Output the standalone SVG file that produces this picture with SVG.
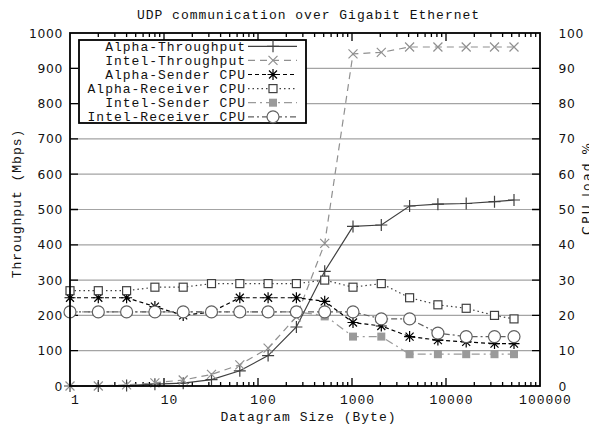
<svg xmlns="http://www.w3.org/2000/svg" width="589" height="425" viewBox="0 0 589 425">
<style>
.t{font-family:"Liberation Mono","Courier New",monospace;font-size:13px;letter-spacing:1px;fill:#111}
.n{font-family:"DejaVu Sans",sans-serif;font-size:12.3px;letter-spacing:0.7px;fill:#111}
.grid{stroke:#a4a4a4;stroke-width:1.2;fill:none}
.tick{stroke:#000;stroke-width:1.3;fill:none}
.ln{fill:none;stroke-width:1.2}
.s1{stroke:#404040}
.s2{stroke:#909090;stroke-dasharray:7 5}
.s3{stroke:#000;stroke-dasharray:4 3}
.s4{stroke:#404040;stroke-dasharray:1.5 3}
.s5{stroke:#9a9a9a;stroke-dasharray:8 4 2 4}
.s6{stroke:#606060;stroke-dasharray:6 3 2 3}
</style>
<defs>
<path id="plus" d="M-6 0H6M0-6V6" stroke="#404040" stroke-width="1.2" fill="none"/>
<path id="cross" d="M-4.5-4.5L4.5 4.5M-4.5 4.5L4.5-4.5" stroke="#909090" stroke-width="1.2" fill="none"/>
<path id="star" d="M-5.5 0H5.5M0-5.5V5.5M-4-4L4 4M-4 4L4-4" stroke="#000" stroke-width="1.2" fill="none"/>
<rect id="osq" x="-4" y="-4" width="8" height="8" stroke="#404040" stroke-width="1.2" fill="#fff"/>
<rect id="fsq" x="-4" y="-4" width="8" height="8" fill="#9a9a9a"/>
<circle id="circ" r="6" stroke="#606060" stroke-width="1.2" fill="#fff"/>
</defs>
<rect width="589" height="425" fill="#fff"/>
<text class="t" x="308.5" y="19" text-anchor="middle">UDP communication over Gigabit Ethernet</text>
<g id="grid">
<path class="grid" d="M70 350.7H540M70 315.4H540M70 280.1H540M70 244.8H540M70 209.5H540M70 174.2H540M70 138.9H540M70 103.6H540M70 68.3H540"/>
</g>
<g id="ticks">
<path class="tick" d="M70 350.7h8M70 315.4h8M70 280.1h8M70 244.8h8M70 209.5h8M70 174.2h8M70 138.9h8M70 103.6h8M70 68.3h8M540 350.7h-8M540 315.4h-8M540 280.1h-8M540 244.8h-8M540 209.5h-8M540 174.2h-8M540 138.9h-8M540 103.6h-8M540 68.3h-8M164 386v-8M258 386v-8M352 386v-8M446 386v-8M164 33v8M258 33v8M352 33v8M446 33v8M98.3 386v-4M114.85 386v-4M126.6 386v-4M135.7 386v-4M143.1 386v-4M149.4 386v-4M154.9 386v-4M159.7 386v-4M192.3 386v-4M208.85 386v-4M220.6 386v-4M229.7 386v-4M237.1 386v-4M243.4 386v-4M248.9 386v-4M253.7 386v-4M286.3 386v-4M302.85 386v-4M314.6 386v-4M323.7 386v-4M331.1 386v-4M337.4 386v-4M342.9 386v-4M347.7 386v-4M380.3 386v-4M396.85 386v-4M408.6 386v-4M417.7 386v-4M425.1 386v-4M431.4 386v-4M436.9 386v-4M441.7 386v-4M474.3 386v-4M490.85 386v-4M502.6 386v-4M511.7 386v-4M519.1 386v-4M525.4 386v-4M530.9 386v-4M535.7 386v-4M98.3 33v4M114.85 33v4M126.6 33v4M135.7 33v4M143.1 33v4M149.4 33v4M154.9 33v4M159.7 33v4M192.3 33v4M208.85 33v4M220.6 33v4M229.7 33v4M237.1 33v4M243.4 33v4M248.9 33v4M253.7 33v4M286.3 33v4M302.85 33v4M314.6 33v4M323.7 33v4M331.1 33v4M337.4 33v4M342.9 33v4M347.7 33v4M380.3 33v4M396.85 33v4M408.6 33v4M417.7 33v4M425.1 33v4M431.4 33v4M436.9 33v4M441.7 33v4M474.3 33v4M490.85 33v4M502.6 33v4M511.7 33v4M519.1 33v4M525.4 33v4M530.9 33v4M535.7 33v4"/>
</g>
<g id="y-labels" class="n" text-anchor="end">
<text x="63" y="390.5">0</text>
<text x="63" y="355.2">100</text>
<text x="63" y="319.9">200</text>
<text x="63" y="284.6">300</text>
<text x="63" y="249.3">400</text>
<text x="63" y="214">500</text>
<text x="63" y="178.7">600</text>
<text x="63" y="143.4">700</text>
<text x="63" y="108.1">800</text>
<text x="63" y="72.8">900</text>
<text x="63" y="37.5">1000</text>
</g>
<g id="y2-labels" class="n">
<text x="558.5" y="390.5">0</text>
<text x="558.5" y="355.2">10</text>
<text x="558.5" y="319.9">20</text>
<text x="558.5" y="284.6">30</text>
<text x="558.5" y="249.3">40</text>
<text x="558.5" y="214">50</text>
<text x="558.5" y="178.7">60</text>
<text x="558.5" y="143.4">70</text>
<text x="558.5" y="108.1">80</text>
<text x="558.5" y="72.8">90</text>
<text x="558.5" y="37.5">100</text>
</g>
<g id="x-labels" class="t" text-anchor="middle">
<text x="75.5" y="404">1</text>
<text x="169.5" y="404">10</text>
<text x="263.5" y="404">100</text>
<text x="357.5" y="404">1000</text>
<text x="451.5" y="404">10000</text>
<text x="545.5" y="404">100000</text>
</g>
<text class="t" x="308.5" y="420.5" text-anchor="middle">Datagram Size (Byte)</text>
<text class="t" transform="translate(21 203.5) rotate(-90)" text-anchor="middle">Throughput (Mbps)</text>
<text class="n" style="letter-spacing:0" transform="translate(590.5 189) rotate(-90)" text-anchor="middle" textLength="92" lengthAdjust="spacing">CPU load %</text>
<g id="series-alpha-throughput">
<polyline class="ln s1" points="70,386 98.3,386 126.6,385.6 154.9,384.2 183.2,383.2 211.5,379.6 239.8,370.8 268.1,355.6 296.4,327 324.7,271.3 353,226.4 381.3,225 409.6,206 437.9,204.2 466.2,203.5 494.5,201.7 514,200"/>
<use href="#plus" x="70" y="386"/><use href="#plus" x="98.3" y="386"/><use href="#plus" x="126.6" y="385.6"/><use href="#plus" x="154.9" y="384.2"/><use href="#plus" x="183.2" y="383.2"/><use href="#plus" x="211.5" y="379.6"/><use href="#plus" x="239.8" y="370.8"/><use href="#plus" x="268.1" y="355.6"/><use href="#plus" x="296.4" y="327"/><use href="#plus" x="324.7" y="271.3"/><use href="#plus" x="353" y="226.4"/><use href="#plus" x="381.3" y="225"/><use href="#plus" x="409.6" y="206"/><use href="#plus" x="437.9" y="204.2"/><use href="#plus" x="466.2" y="203.5"/><use href="#plus" x="494.5" y="201.7"/><use href="#plus" x="514" y="200"/>
</g>
<g id="series-intel-throughput">
<polyline class="ln s2" points="70,386 98.3,386 126.6,384.9 154.9,382.8 183.2,380 211.5,374.4 239.8,364.8 268.1,348.2 296.4,316.8 324.7,243.4 353,53.8 381.3,52.4 409.6,47 437.9,47 466.2,47 494.5,47 514,47"/>
<use href="#cross" x="70" y="386"/><use href="#cross" x="98.3" y="386"/><use href="#cross" x="126.6" y="384.9"/><use href="#cross" x="154.9" y="382.8"/><use href="#cross" x="183.2" y="380"/><use href="#cross" x="211.5" y="374.4"/><use href="#cross" x="239.8" y="364.8"/><use href="#cross" x="268.1" y="348.2"/><use href="#cross" x="296.4" y="316.8"/><use href="#cross" x="324.7" y="243.4"/><use href="#cross" x="353" y="53.8"/><use href="#cross" x="381.3" y="52.4"/><use href="#cross" x="409.6" y="47"/><use href="#cross" x="437.9" y="47"/><use href="#cross" x="466.2" y="47"/><use href="#cross" x="494.5" y="47"/><use href="#cross" x="514" y="47"/>
</g>
<g id="series-alpha-sender">
<polyline class="ln s3" points="70,297.75 98.3,297.75 126.6,297.75 154.9,306.6 183.2,315.4 211.5,311.9 239.8,297.75 268.1,297.75 296.4,297.75 324.7,301.3 353,322.5 381.3,326 409.6,336.6 437.9,340.1 466.2,341.9 494.5,343.6 514,343.6"/>
<use href="#star" x="70" y="297.75"/><use href="#star" x="98.3" y="297.75"/><use href="#star" x="126.6" y="297.75"/><use href="#star" x="154.9" y="306.6"/><use href="#star" x="183.2" y="315.4"/><use href="#star" x="211.5" y="311.9"/><use href="#star" x="239.8" y="297.75"/><use href="#star" x="268.1" y="297.75"/><use href="#star" x="296.4" y="297.75"/><use href="#star" x="324.7" y="301.3"/><use href="#star" x="353" y="322.5"/><use href="#star" x="381.3" y="326"/><use href="#star" x="409.6" y="336.6"/><use href="#star" x="437.9" y="340.1"/><use href="#star" x="466.2" y="341.9"/><use href="#star" x="494.5" y="343.6"/><use href="#star" x="514" y="343.6"/>
</g>
<g id="series-alpha-receiver">
<polyline class="ln s4" points="70,290.7 98.3,290.7 126.6,290.7 154.9,287.2 183.2,287.2 211.5,283.6 239.8,283.6 268.1,283.6 296.4,283.6 324.7,280.1 353,287.2 381.3,283.6 409.6,297.75 437.9,304.8 466.2,308.3 494.5,315.4 514,318.9"/>
<use href="#osq" x="70" y="290.7"/><use href="#osq" x="98.3" y="290.7"/><use href="#osq" x="126.6" y="290.7"/><use href="#osq" x="154.9" y="287.2"/><use href="#osq" x="183.2" y="287.2"/><use href="#osq" x="211.5" y="283.6"/><use href="#osq" x="239.8" y="283.6"/><use href="#osq" x="268.1" y="283.6"/><use href="#osq" x="296.4" y="283.6"/><use href="#osq" x="324.7" y="280.1"/><use href="#osq" x="353" y="287.2"/><use href="#osq" x="381.3" y="283.6"/><use href="#osq" x="409.6" y="297.75"/><use href="#osq" x="437.9" y="304.8"/><use href="#osq" x="466.2" y="308.3"/><use href="#osq" x="494.5" y="315.4"/><use href="#osq" x="514" y="318.9"/>
</g>
<g id="series-intel-sender">
<polyline class="ln s5" points="70,311.9 98.3,311.9 126.6,311.9 154.9,311.9 183.2,311.9 211.5,311.9 239.8,311.9 268.1,311.9 296.4,311.9 324.7,315.4 353,336.6 381.3,336.6 409.6,354.2 437.9,354.2 466.2,354.2 494.5,354.2 514,354.2"/>
<use href="#fsq" x="70" y="311.9"/><use href="#fsq" x="98.3" y="311.9"/><use href="#fsq" x="126.6" y="311.9"/><use href="#fsq" x="154.9" y="311.9"/><use href="#fsq" x="183.2" y="311.9"/><use href="#fsq" x="211.5" y="311.9"/><use href="#fsq" x="239.8" y="311.9"/><use href="#fsq" x="268.1" y="311.9"/><use href="#fsq" x="296.4" y="311.9"/><use href="#fsq" x="324.7" y="316.4"/><use href="#fsq" x="353" y="336.6"/><use href="#fsq" x="381.3" y="336.6"/><use href="#fsq" x="409.6" y="354.2"/><use href="#fsq" x="437.9" y="354.2"/><use href="#fsq" x="466.2" y="354.2"/><use href="#fsq" x="494.5" y="354.2"/><use href="#fsq" x="514" y="354.2"/>
</g>
<g id="series-intel-receiver">
<polyline class="ln s6" points="70,311.9 98.3,311.9 126.6,311.9 154.9,311.9 183.2,311.9 211.5,311.9 239.8,311.9 268.1,311.9 296.4,311.9 324.7,311.9 353,311.9 381.3,318.9 409.6,318.9 437.9,333.1 466.2,336.6 494.5,336.6 514,336.6"/>
<use href="#circ" x="70" y="311.9"/><use href="#circ" x="98.3" y="311.9"/><use href="#circ" x="126.6" y="311.9"/><use href="#circ" x="154.9" y="311.9"/><use href="#circ" x="183.2" y="311.9"/><use href="#circ" x="211.5" y="311.9"/><use href="#circ" x="239.8" y="311.9"/><use href="#circ" x="268.1" y="311.9"/><use href="#circ" x="296.4" y="311.9"/><use href="#circ" x="324.7" y="311.9"/><use href="#circ" x="353" y="311.9"/><use href="#circ" x="381.3" y="318.9"/><use href="#circ" x="409.6" y="318.9"/><use href="#circ" x="437.9" y="333.1"/><use href="#circ" x="466.2" y="336.6"/><use href="#circ" x="494.5" y="336.6"/><use href="#circ" x="514" y="336.6"/>
</g>
<g id="frame">
<rect x="70" y="33" width="470" height="353" fill="none" stroke="#000" stroke-width="1.8"/>
</g>
<g id="legend">
<rect x="79" y="40" width="227" height="83" fill="#fff" stroke="#000" stroke-width="1.8"/>
<g class="t" text-anchor="end">
<text x="246" y="50.8">Alpha-Throughput</text>
<text x="246" y="64.9">Intel-Throughput</text>
<text x="246" y="79">Alpha-Sender CPU</text>
<text x="246" y="93.1">Alpha-Receiver CPU</text>
<text x="246" y="107.2">Intel-Sender CPU</text>
<text x="246" y="121.3">Intel-Receiver CPU</text>
</g>
<path class="ln s1" d="M248 46.3H297"/><use href="#plus" x="273" y="46.3"/>
<path class="ln s2" d="M248 60.4H297"/><use href="#cross" x="273" y="60.4"/>
<path class="ln s3" d="M248 74.5H297"/><use href="#star" x="273" y="74.5"/>
<path class="ln s4" d="M248 88.6H297"/><use href="#osq" x="273" y="88.6"/>
<path class="ln s5" d="M248 102.7H297"/><use href="#fsq" x="273" y="102.7"/>
<path class="ln s6" d="M248 116.8H297"/><use href="#circ" x="273" y="116.8"/>
</g>
</svg>
